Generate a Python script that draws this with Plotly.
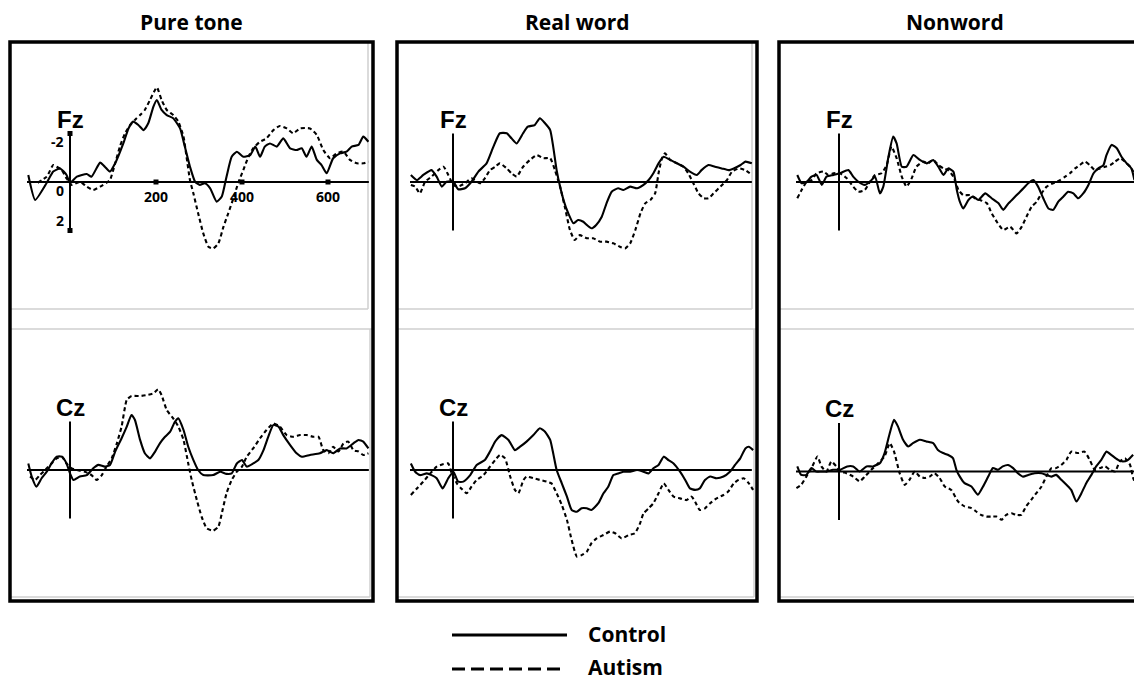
import plotly.graph_objects as go

# ---------------- DATA (time in ms, amplitude in microvolts; negative plotted up) ----------------
conditions = ["Pure tone", "Real word", "Nonword"]
electrodes = ["Fz", "Cz"]
groups = ["Control", "Autism"]

pt_fz_ctrl_t = [-97,-81,-54,-39,-23,-8,0,16,39,50,70,81,93,105,124,136,147,159,171,182,194,202,213,225,240,256,267,279,291,302,314,326,341,353,364,376,388,403,419,431,442,453,465,481,496,512,527,539,550,562,574,585,597,612,628,643,655,671,682,694]
pt_fz_ctrl_v = [-0.29,0.74,0.03,-0.43,-0.56,-0.29,0.03,-0.22,-0.33,-0.22,-0.80,-0.63,-0.43,-0.77,-1.59,-2.21,-2.49,-2.35,-2.14,-2.42,-3.11,-3.38,-2.97,-2.76,-2.63,-2.21,-1.46,-0.63,-0.01,0.12,0.05,0.26,0.81,0.60,-0.22,-1.04,-1.25,-1.04,-1.11,-1.46,-1.04,-1.46,-1.59,-1.46,-1.80,-1.39,-1.32,-1.39,-1.04,-1.46,-0.91,-0.70,-0.36,-0.98,-1.18,-1.25,-1.46,-1.53,-1.87,-1.66]
pt_fz_aut_t = [-75,-54,-39,-31,-19,-8,4,23,39,54,70,85,93,105,116,128,140,151,163,174,186,202,213,225,240,252,264,271,279,287,298,310,322,333,345,357,368,380,391,403,415,426,442,457,473,488,504,519,535,558,574,589,605,620,636,651,667,682,694]
pt_fz_aut_v = [0.03,-0.22,-0.70,-0.63,-0.49,-0.15,0.12,-0.01,0.19,0.33,0.19,0.03,-0.08,-0.77,-1.46,-2.01,-2.35,-2.56,-2.76,-2.97,-3.38,-3.90,-3.38,-2.97,-2.76,-2.49,-1.87,-1.04,-0.08,0.47,1.29,2.12,2.67,2.74,2.53,1.84,1.29,0.67,0.05,-0.49,-1.04,-1.39,-1.66,-1.80,-2.14,-2.31,-2.21,-2.01,-2.21,-2.21,-1.94,-1.32,-0.98,-1.18,-1.25,-0.91,-0.77,-0.77,-0.84]
pt_cz_ctrl_t = [-97,-89,-78,-66,-54,-43,-31,-19,-8,0,8,23,39,54,66,81,93,105,120,132,143,151,163,174,186,198,209,221,233,244,252,264,275,287,298,310,333,349,364,376,388,400,411,426,438,450,461,473,485,496,512,527,539,558,581,597,612,628,643,659,671,682,694]
pt_cz_ctrl_v = [-0.27,0.27,0.69,0.34,0.07,-0.27,-0.55,-0.55,-0.27,0.14,0.41,0.27,0.21,-0.07,-0.21,-0.14,-0.21,-0.76,-1.31,-1.79,-2.27,-2.06,-1.24,-0.69,-0.48,-0.76,-1.10,-1.37,-1.58,-1.99,-2.13,-1.65,-0.96,-0.41,0.0,0.21,0.21,0.07,0.16,0.14,-0.27,-0.41,-0.14,-0.27,-0.41,-0.82,-1.37,-1.86,-1.79,-1.44,-1.03,-0.69,-0.55,-0.62,-0.69,-0.82,-0.69,-0.89,-0.89,-1.10,-1.24,-1.17,-0.89]
pt_cz_aut_t = [-93,-81,-70,-54,-43,-31,-19,-8,4,16,35,50,62,74,85,97,109,120,132,143,163,178,194,205,213,225,240,252,264,275,283,295,306,318,333,345,353,364,376,388,400,411,426,442,457,473,488,504,519,535,550,566,578,589,601,612,624,636,647,659,671,682,694]
pt_cz_aut_v = [0.27,0.41,0.21,-0.07,-0.27,-0.48,-0.55,-0.27,-0.07,0.0,0.07,0.21,0.41,0.21,-0.14,-0.48,-1.10,-1.79,-2.89,-3.05,-3.05,-3.09,-3.16,-3.33,-3.09,-2.47,-2.13,-1.79,-1.24,-0.27,0.41,1.24,1.92,2.41,2.50,2.34,1.79,0.96,0.41,0.07,-0.14,-0.55,-0.89,-1.31,-1.65,-1.92,-1.79,-1.44,-1.37,-1.44,-1.44,-1.37,-1.37,-0.82,-0.69,-0.96,-0.76,-1.10,-1.17,-0.82,-0.76,-0.62,-0.69]

rw_fz_ctrl_t = [-98,-84,-69,-50,-38,-26,-15,1,12,28,43,59,78,94,109,125,136,148,163,174,190,202,214,226,233,241,249,257,268,280,291,303,311,322,333,346,357,369,384,396,412,428,443,455,466,478,490,505,521,536,551,567,578,594,609,625,641,653,669,680,695]
rw_fz_ctrl_v = [-0.29,-0.08,-0.29,-0.49,-0.22,0.19,-0.01,-0.01,0.30,0.26,-0.01,-0.43,-0.77,-1.46,-2.01,-2.01,-1.80,-1.59,-2.01,-2.28,-2.35,-2.63,-2.42,-2.14,-1.46,-0.49,0.19,0.74,1.29,1.70,1.57,1.64,1.77,1.91,1.77,1.43,0.88,0.40,0.26,0.33,0.19,0.26,0.12,-0.08,-0.36,-0.77,-1.04,-0.91,-0.77,-0.63,-0.43,-0.29,-0.49,-0.70,-0.63,-0.56,-0.49,-0.56,-0.70,-0.84,-0.77]
rw_fz_aut_t = [-98,-88,-77,-65,-50,-34,-22,-11,1,12,28,43,63,74,86,98,109,125,136,148,163,179,195,210,226,237,249,260,272,283,295,311,326,342,357,373,388,400,412,424,436,447,459,470,478,486,493,505,521,536,547,559,571,583,594,606,622,637,649,665,680,695]
rw_fz_aut_v = [0.12,0.19,0.47,-0.01,-0.22,-0.49,-0.63,-0.29,0.12,0.19,0.05,-0.15,0.05,-0.15,-0.49,-0.63,-0.77,-0.56,-0.36,-0.22,-0.63,-0.91,-1.11,-0.98,-0.98,-0.49,0.19,1.02,1.98,2.39,2.19,2.32,2.32,2.46,2.46,2.53,2.67,2.74,2.53,1.98,1.29,0.88,0.74,0.47,-0.36,-0.98,-1.18,-0.91,-0.77,-0.63,-0.36,0.05,0.47,0.67,0.67,0.47,0.19,-0.08,-0.43,-0.56,-0.49,-0.29]
rw_cz_ctrl_t = [-98,-88,-77,-61,-50,-38,-24,-11,1,12,24,40,55,74,86,98,113,129,144,156,171,187,202,214,226,233,241,253,265,276,288,299,311,322,338,350,361,373,384,396,412,428,443,455,466,478,490,501,513,528,540,551,563,574,586,598,613,629,644,656,668,680,688,698]
rw_cz_ctrl_v = [-0.27,0.07,0.21,0.14,0.21,0.34,0.76,0.34,0.07,0.48,0.48,0.21,-0.21,-0.41,-0.76,-1.17,-1.44,-1.24,-0.82,-0.96,-1.17,-1.44,-1.72,-1.58,-1.24,-0.69,0.0,0.55,1.10,1.65,1.72,1.58,1.58,1.65,1.37,0.96,0.69,0.21,0.14,0.07,0.07,0.0,0.07,0.14,-0.07,-0.21,-0.55,-0.41,-0.27,0.07,0.41,0.76,0.82,0.76,0.41,0.27,0.34,0.27,0.07,-0.21,-0.48,-0.89,-0.96,-0.82]
rw_cz_aut_t = [-98,-84,-69,-53,-38,-22,-11,-3,9,19,32,43,55,71,86,98,109,121,133,144,152,164,171,187,202,218,229,241,253,265,276,288,299,311,322,334,350,365,377,392,409,423,435,443,455,466,478,490,501,513,528,543,555,563,574,586,598,613,629,640,653,664,676,688,698]
rw_cz_aut_v = [1.03,0.76,0.48,0.14,-0.14,-0.25,-0.27,0.14,0.55,0.76,0.96,0.69,0.41,0.21,-0.14,-0.41,-0.62,-0.48,0.27,0.82,0.96,0.41,0.27,0.34,0.41,0.48,0.55,0.96,1.44,2.06,2.89,3.57,3.51,3.37,3.02,2.82,2.68,2.54,2.61,2.82,2.68,2.61,2.20,1.79,1.58,1.37,0.96,0.55,0.82,1.10,1.17,1.24,1.10,1.31,1.65,1.58,1.37,1.17,1.03,0.89,0.55,0.41,0.34,0.55,0.82]

nw_fz_ctrl_t = [-97,-87,-75,-64,-52,-40,-29,-13,2,22,33,45,60,72,84,95,103,115,126,134,146,157,173,188,204,219,231,243,254,266,274,281,289,301,312,324,340,355,371,382,394,406,417,429,440,452,463,475,487,498,510,522,533,545,556,568,580,592,603,615,622,634,646,657,669,680,687]
nw_fz_ctrl_v = [-0.29,0.05,-0.01,-0.22,-0.29,0.12,-0.22,-0.29,-0.36,-0.49,-0.22,-0.01,0.12,-0.01,-0.22,0.47,0.19,-1.04,-1.87,-1.59,-0.63,-0.63,-1.11,-0.91,-0.77,-0.91,-0.63,-0.29,-0.56,-0.43,0.33,0.81,1.09,0.74,0.60,0.74,0.47,0.67,0.88,1.15,0.88,0.67,0.47,0.26,0.05,-0.08,0.19,0.67,1.09,1.15,0.81,0.60,0.40,0.47,0.67,0.47,0.12,-0.36,-0.56,-0.70,-1.11,-1.53,-1.39,-1.04,-0.77,-0.56,-0.08]
nw_fz_aut_t = [-97,-87,-75,-64,-52,-36,-25,-13,2,18,33,45,60,72,84,99,111,122,134,146,157,169,180,196,207,219,231,243,254,266,278,289,305,316,328,344,355,367,382,398,413,425,436,448,460,471,483,498,514,526,537,549,560,572,583,595,607,619,631,642,654,665,677,687]
nw_fz_aut_v = [0.67,0.33,-0.01,-0.08,-0.36,-0.43,-0.29,-0.36,-0.36,-0.15,0.19,0.40,0.33,-0.01,-0.29,-0.36,-0.70,-1.46,-0.98,-0.22,0.19,-0.15,-0.63,-0.84,-0.77,-0.91,-0.70,-0.56,-0.49,-0.22,0.33,0.54,0.54,0.67,0.74,0.88,1.29,1.64,1.98,1.84,2.12,1.84,1.43,1.02,0.81,0.47,0.19,0.05,-0.08,-0.22,-0.36,-0.56,-0.70,-0.84,-0.70,-0.49,-0.56,-0.63,-0.70,-0.84,-0.98,-0.84,-0.63,-0.36]
nw_cz_ctrl_t = [-97,-88,-76,-64,-53,-41,-29,-14,2,19,33,48,64,79,95,106,118,128,137,149,161,172,188,203,219,230,242,253,265,273,281,292,308,323,335,347,358,370,381,393,405,416,428,440,455,471,482,494,505,517,529,540,552,564,575,587,598,610,622,633,649,660,672,684]
nw_cz_ctrl_v = [-0.21,0.14,0.14,-0.14,0.0,0.0,0.0,-0.07,-0.07,-0.21,-0.21,0.0,-0.21,-0.21,-0.34,-0.76,-1.58,-2.13,-1.86,-1.31,-1.03,-1.17,-1.31,-1.24,-1.17,-0.89,-0.76,-0.69,-0.55,-0.07,0.21,0.48,0.62,0.96,0.62,0.21,-0.14,-0.07,-0.21,-0.27,-0.14,0.07,0.21,0.14,0.07,0.07,0.14,0.21,0.14,0.34,0.55,0.76,1.24,0.89,0.48,0.14,-0.21,-0.48,-0.82,-0.69,-0.48,-0.41,-0.48,-0.69]
nw_cz_aut_t = [-99,-88,-76,-64,-50,-41,-29,-18,-6,5,17,33,48,60,75,91,106,118,128,141,153,164,176,188,199,211,222,234,246,261,277,292,308,319,330,343,354,366,378,389,401,412,424,435,447,459,471,482,494,505,517,529,540,556,571,583,595,607,619,630,642,653,665,677,684,689]
nw_cz_aut_v = [0.69,0.55,0.21,-0.14,-0.62,-0.21,0.0,-0.41,-0.21,0.0,0.07,0.21,0.41,0.21,-0.07,-0.34,-0.62,-1.17,-0.82,0.07,0.55,0.34,0.0,0.21,0.27,0.21,0.07,0.27,0.62,0.76,1.24,1.44,1.51,1.65,1.79,1.86,1.86,1.86,1.99,1.79,1.72,1.79,1.79,1.44,1.17,0.89,0.62,0.21,-0.14,-0.14,-0.27,-0.48,-0.82,-0.76,-0.82,-0.48,-0.07,-0.14,-0.21,-0.07,0.0,-0.41,-0.55,-0.27,0.27,0.48]

# scale-bar ticks / labels shown in the Pure tone Fz panel
epoch_ms = [-100, 695]
scale_uv = [-2, 2]
pt_time_ticks = [200, 400, 600]
pt_time_ticklabels = ["200", "400", "600"]
pt_amp_ticks = [-2, 0, 2]
pt_amp_ticklabels = ["-2", "0", "2"]

# ---------------- LAYOUT GEOMETRY (pixels) ----------------
W, H = 1134, 680
PX_MS = 0.43      # pixels per millisecond
PX_UV = 24.25     # pixels per microvolt
TOP_BOX = (42, 309)
BOT_BOX = (329, 601)
panels = [
    dict(left=10, right=373, zx=70, zy=(182, 470)),
    dict(left=397, right=757, zx=453, zy=(182, 470)),
    dict(left=779, right=1141, zx=839, zy=(182, 471.5)),
]
series = {
    ("Pure tone", "Fz"): ((pt_fz_ctrl_t, pt_fz_ctrl_v), (pt_fz_aut_t, pt_fz_aut_v)),
    ("Pure tone", "Cz"): ((pt_cz_ctrl_t, pt_cz_ctrl_v), (pt_cz_aut_t, pt_cz_aut_v)),
    ("Real word", "Fz"): ((rw_fz_ctrl_t, rw_fz_ctrl_v), (rw_fz_aut_t, rw_fz_aut_v)),
    ("Real word", "Cz"): ((rw_cz_ctrl_t, rw_cz_ctrl_v), (rw_cz_aut_t, rw_cz_aut_v)),
    ("Nonword", "Fz"): ((nw_fz_ctrl_t, nw_fz_ctrl_v), (nw_fz_aut_t, nw_fz_aut_v)),
    ("Nonword", "Cz"): ((nw_cz_ctrl_t, nw_cz_ctrl_v), (nw_cz_aut_t, nw_cz_aut_v)),
}

TITLE_FONT = dict(family="Open Sans", size=21, color="black")
LABEL_FONT = dict(family="Liberation Sans", size=24, color="black")
TICK_FONT = dict(family="Open Sans", size=14, color="black")
DASH = "4px,3px"

fig = go.Figure()
layout = dict(width=W, height=H, margin=dict(l=0, r=0, t=0, b=0),
              paper_bgcolor="white", plot_bgcolor="rgba(0,0,0,0)", showlegend=False)
shapes, annotations = [], []


def px(x):
    return x / W


def py(y):
    return 1 - y / H


k = 0
for ci, cond in enumerate(conditions):
    p = panels[ci]
    R = min(p["right"], W)
    for ei, el in enumerate(electrodes):
        k += 1
        box = TOP_BOX if ei == 0 else BOT_BOX
        zy = p["zy"][ei]
        sx = "" if k == 1 else str(k)
        layout["xaxis" + sx] = dict(domain=[px(p["left"]), px(R)],
                                    range=[(p["left"] - p["zx"]) / PX_MS, (R - p["zx"]) / PX_MS],
                                    visible=False, fixedrange=True)
        layout["yaxis" + sx] = dict(domain=[py(box[1]), py(box[0])],
                                    range=[(box[1] - zy) / PX_UV, (box[0] - zy) / PX_UV],
                                    visible=False, fixedrange=True)
        xr, yr = "x" + sx, "y" + sx
        (ct, cv), (at, av) = series[(cond, el)]
        for (t, v, dash, name) in ((at, av, DASH, "Autism"), (ct, cv, "solid", "Control")):
            fig.add_trace(go.Scatter(x=t, y=v, mode="lines", name=name,
                                     line=dict(color="black", width=2.1, dash=dash,
                                               shape="spline", smoothing=0.5),
                                     xaxis=xr, yaxis=yr, hoverinfo="skip"))
        # baseline and time-zero scale bar
        shapes.append(dict(type="line", xref=xr, yref=yr, x0=epoch_ms[0], x1=epoch_ms[1],
                           y0=0, y1=0, line=dict(color="black", width=2)))
        shapes.append(dict(type="line", xref=xr, yref=yr, x0=0, x1=0,
                           y0=scale_uv[0], y1=scale_uv[1], line=dict(color="black", width=2)))
        annotations.append(dict(text="<b>%s</b>" % el, xref=xr, yref=yr, x=0, y=scale_uv[0],
                                xanchor="center", yanchor="bottom", yshift=-1, showarrow=False,
                                font=LABEL_FONT))
        if k == 1:
            fig.add_trace(go.Scatter(x=pt_time_ticks, y=[0] * len(pt_time_ticks), mode="markers",
                                     marker=dict(symbol="square", size=5, color="black"),
                                     xaxis=xr, yaxis=yr, hoverinfo="skip"))
            fig.add_trace(go.Scatter(x=[0, 0], y=scale_uv, mode="markers",
                                     marker=dict(symbol="square", size=5, color="black"),
                                     xaxis=xr, yaxis=yr, hoverinfo="skip"))
            for tt, lab in zip(pt_time_ticks, pt_time_ticklabels):
                annotations.append(dict(text="<b>%s</b>" % lab, xref=xr, yref=yr, x=tt, y=0,
                                        yanchor="top", yshift=-3, showarrow=False, font=TICK_FONT))
            for aa, lab in zip(pt_amp_ticks, pt_amp_ticklabels):
                annotations.append(dict(text="<b>%s</b>" % lab, xref=xr, yref=yr, x=0, y=aa,
                                        xanchor="right", xshift=-4,
                                        yshift=-8 if aa <= 0 else 10,
                                        showarrow=False, font=TICK_FONT))

    # panel frame: light inner frames + thick black border
    L, Rr = p["left"], p["right"]
    gray = dict(color="#cfcfcf", width=1.5)
    for (x0, y0, x1, y1) in ((L, 309, Rr - 5, 309), (Rr - 5, 42, Rr - 5, 309),
                             (L, 329, Rr, 329), (Rr - 3, 329, Rr - 3, 597), (L, 597, Rr - 3, 597)):
        shapes.append(dict(type="line", xref="paper", yref="paper", x0=px(x0), y0=py(y0),
                           x1=px(x1), y1=py(y1), line=gray, layer="below"))
    shapes.append(dict(type="rect", xref="paper", yref="paper", x0=px(L), x1=px(Rr),
                       y0=py(601), y1=py(42), line=dict(color="black", width=3.5)))
    annotations.append(dict(text="<b>%s</b>" % cond, xref="paper", yref="paper",
                            x=px((L + Rr) / 2 if ci < 2 else 955), y=py(22),
                            xanchor="center", yanchor="middle", showarrow=False, font=TITLE_FONT))

# legend drawn below the panels
shapes.append(dict(type="line", xref="paper", yref="paper", x0=px(452), x1=px(567),
                   y0=py(635), y1=py(635), line=dict(color="black", width=3)))
shapes.append(dict(type="line", xref="paper", yref="paper", x0=px(452), x1=px(562),
                   y0=py(669), y1=py(669), line=dict(color="black", width=3, dash="13px,6px")))
for g, yy in zip(groups, (634, 667)):
    annotations.append(dict(text="<b>%s</b>" % g, xref="paper", yref="paper", x=px(586), y=py(yy),
                            xanchor="left", yanchor="middle", showarrow=False, font=TITLE_FONT))

layout["shapes"] = shapes
layout["annotations"] = annotations
fig.update_layout(**layout)
fig.write_html("out.html", config={"displayModeBar": False},
               post_script="document.body.style.margin='0';document.body.style.overflow='hidden';")
